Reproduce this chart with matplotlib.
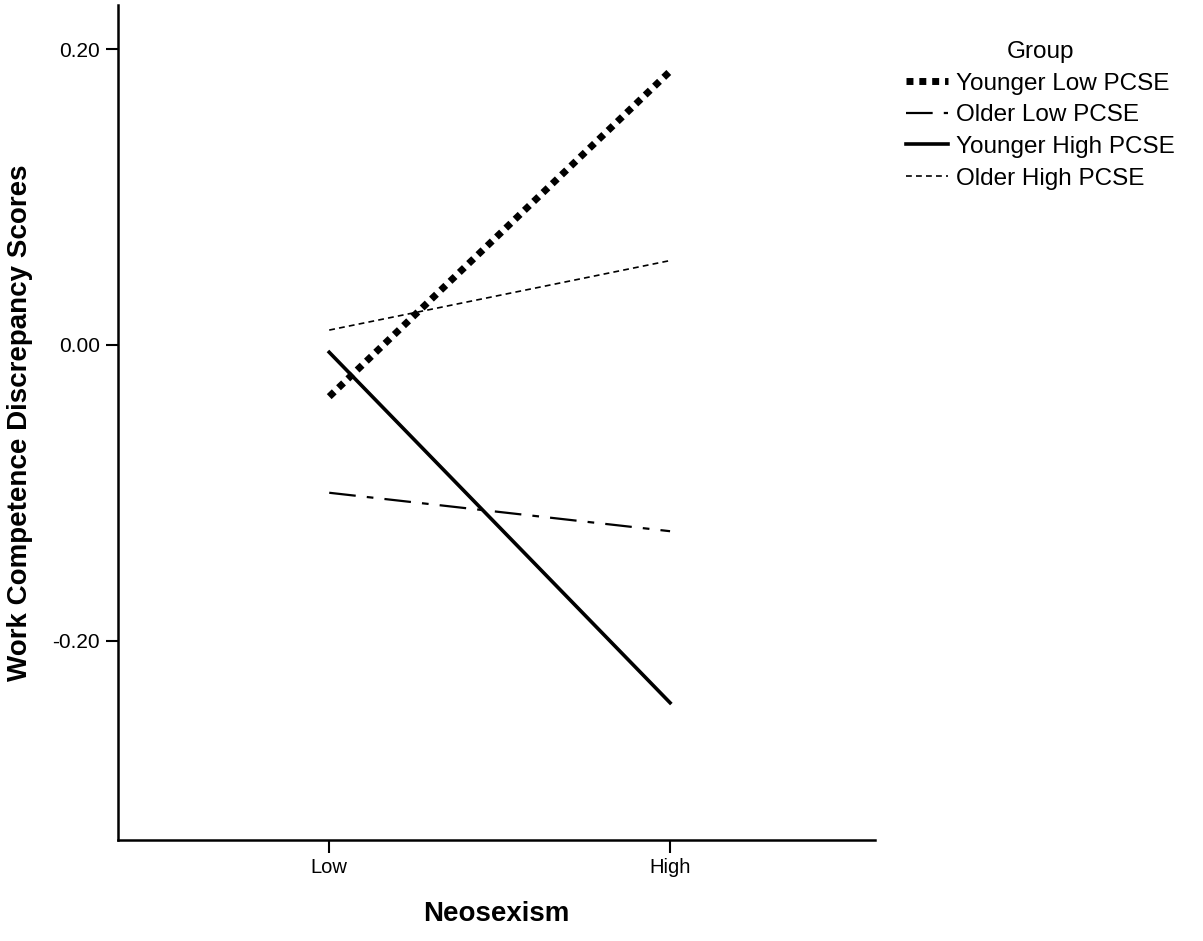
import matplotlib
matplotlib.use("Agg")
import matplotlib.pyplot as plt

plt.rcParams['font.family'] = ['Liberation Sans', 'DejaVu Sans']

# Data
niveles = ["Low", "High"]
grupos = ["Younger Low PCSE", "Older Low PCSE", "Younger High PCSE", "Older High PCSE"]
younger_low = [-0.035, 0.185]
older_low = [-0.100, -0.126]
younger_high = [-0.005, -0.242]
older_high = [0.010, 0.057]
y_ticks = [-0.20, 0.00, 0.20]

series = [younger_low, older_low, younger_high, older_high]
estilos = [
    dict(linestyle=(0, (1.0, 0.85)), linewidth=5.0, dash_capstyle='butt'),
    dict(linestyle=(0, (12, 5, 3, 5)), linewidth=1.6),
    dict(linestyle='-', linewidth=2.6),
    dict(linestyle=(0, (3.5, 2.5)), linewidth=1.2),
]

fig = plt.figure(figsize=(12.03, 9.41), dpi=100)
ax = fig.add_axes([0.098, 0.107, 0.629, 0.888])

x = list(range(len(niveles)))
for nombre, valores, est in zip(grupos, series, estilos):
    ax.plot(x, valores, color='black', label=nombre, **est)

ax.set_xlim(-0.62, 1.60)
ax.set_ylim(-0.335, 0.23)
ax.set_xticks(x)
ax.set_xticklabels(niveles, fontsize=14.5)
ax.set_yticks(y_ticks)
ax.set_yticklabels([f"{v:.2f}" for v in y_ticks], fontsize=15)

for lado in ['top', 'right']:
    ax.spines[lado].set_visible(False)
for lado in ['left', 'bottom']:
    ax.spines[lado].set_linewidth(1.8)
ax.tick_params(direction='out', length=9, width=1.5, pad=4)

ax.set_xlabel("Neosexism", fontsize=20, fontweight='bold', labelpad=17)
ax.set_ylabel("Work Competence Discrepancy Scores", fontsize=20, fontweight='bold', labelpad=14)

leg = fig.legend(loc='upper left', bbox_to_anchor=(0.745, 0.967), frameon=False,
                 title="Group", fontsize=17.5, title_fontsize=17.5,
                 handlelength=1.75, handletextpad=0.3, labelspacing=0.4,
                 borderaxespad=0.0)

plt.savefig("out.png", dpi=100)
